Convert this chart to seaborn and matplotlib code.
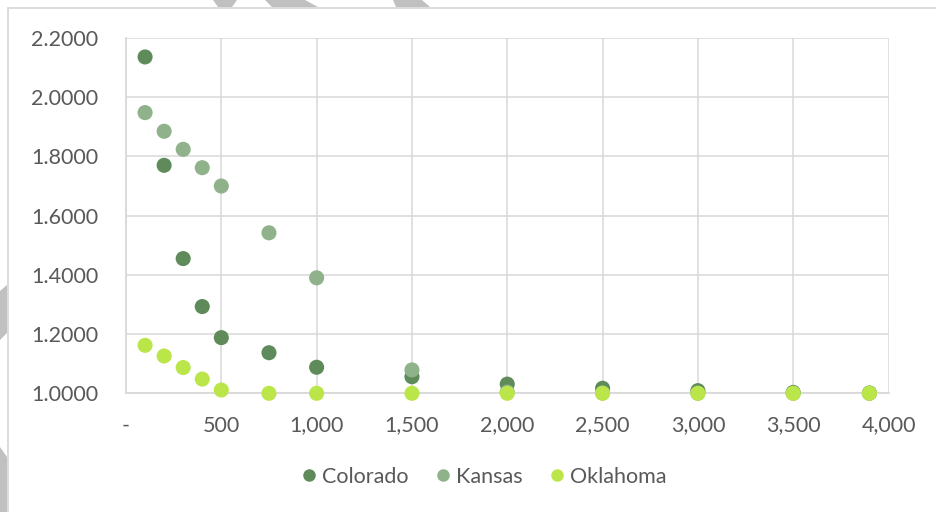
"""Scatter of adjustment factors by state, styled like the Excel original."""

import matplotlib

matplotlib.use("Agg")
import matplotlib.pyplot as plt
import matplotlib.ticker as mticker
from matplotlib.lines import Line2D
from matplotlib.patches import Polygon
import pandas as pd
import seaborn as sns

# ---- data ------------------------------------------------------------------
x_values = [100, 200, 300, 400, 500, 750, 1000, 1500, 2000, 2500, 3000, 3500, 3900]
colorado = [2.136, 1.770, 1.455, 1.293, 1.188, 1.137, 1.088, 1.056, 1.031, 1.017, 1.009, 1.003, 1.001]
kansas = [1.948, 1.885, 1.824, 1.762, 1.700, 1.542, 1.390, 1.079, 1.004, 1.001, 1.000, 1.000, 1.000]
oklahoma = [1.162, 1.126, 1.087, 1.048, 1.011, 1.000, 1.000, 1.000, 1.000, 1.000, 1.000, 1.000, 1.000]

states = ["Colorado", "Kansas", "Oklahoma"]
palette = {"Colorado": "#5f8b5b", "Kansas": "#8fb28b", "Oklahoma": "#bae64a"}

x_ticks = [0, 500, 1000, 1500, 2000, 2500, 3000, 3500, 4000]
y_ticks = [1.0, 1.2, 1.4, 1.6, 1.8, 2.0, 2.2]

df = pd.concat([
    pd.DataFrame({"size": x_values, "factor": vals, "state": name})
    for name, vals in zip(states, [colorado, kansas, oklahoma])
], ignore_index=True)

sns.set_theme(style="white")
plt.rcParams["font.family"] = ["Lato", "DejaVu Sans"]
TEXT = "#595959"
GRID = "#d9d9d9"
FS = 15.5

fig = plt.figure(figsize=(9.37, 5.12), dpi=100)
ax = fig.add_axes([126 / 937, 1 - 393.3 / 512, (888.5 - 126) / 937, (393.3 - 38) / 512])

sns.scatterplot(data=df, x="size", y="factor", hue="state", hue_order=states,
                palette=palette, s=118, linewidth=0, alpha=1, legend=False,
                ax=ax, zorder=3, clip_on=False)

ax.set_xlim(0, 4000)
ax.set_ylim(1.0, 2.2)
ax.set_xticks(x_ticks)
ax.set_yticks(y_ticks)
ax.xaxis.set_major_formatter(mticker.FuncFormatter(
    lambda v, _: "-" if v == 0 else f"{v:,.0f}"))
ax.yaxis.set_major_formatter(mticker.FormatStrFormatter("%.4f"))
ax.tick_params(axis="both", length=0, labelsize=FS, labelcolor=TEXT)
ax.tick_params(axis="x", pad=16)
ax.tick_params(axis="y", pad=20)
ax.grid(True, color=GRID, linewidth=1.1)
ax.set_axisbelow(True)
for side in ["top", "right"]:
    ax.spines[side].set_visible(False)
for side in ["left", "bottom"]:
    ax.spines[side].set_color(GRID)
    ax.spines[side].set_linewidth(1.3)
ax.set_xlabel("")
ax.set_ylabel("")

handles = [Line2D([], [], marker="o", linestyle="", markersize=9,
                  markerfacecolor=palette[s], markeredgewidth=0, label=s)
           for s in states]
fig.legend(handles=handles, loc="center", bbox_to_anchor=(482 / 937, 1 - 477 / 512),
           ncol=3, frameon=False, fontsize=FS, labelcolor=TEXT,
           handletextpad=0.1, columnspacing=1.1, handlelength=1.0)

# chart-area border (only top/left edges are inside the crop)
fig.add_artist(Line2D([8 / 937, 8 / 937], [0, 1 - 8 / 512], transform=fig.transFigure,
                      color=GRID, linewidth=1.3))
fig.add_artist(Line2D([8 / 937, 1], [1 - 8 / 512, 1 - 8 / 512], transform=fig.transFigure,
                      color=GRID, linewidth=1.3))

# grey diagonal bands peeking in from behind the chart
shade = "#c0c0c0"
bands = [
    [(213, 0), (237, 0), (232, 7), (218, 7)],
    [(265, 0), (305, 0), (318, 7), (272, 7)],
    [(393, 0), (422, 0), (430, 7), (396, 7)],
    [(0, 291), (7, 285), (7, 333), (0, 340)],
    [(0, 447), (7, 457), (7, 512), (0, 512)],
]
for pts in bands:
    fig.add_artist(Polygon([(x / 937, 1 - y / 512) for x, y in pts], closed=True,
                           transform=fig.transFigure, facecolor=shade, edgecolor="none"))

fig.savefig("out.png", dpi=100)
